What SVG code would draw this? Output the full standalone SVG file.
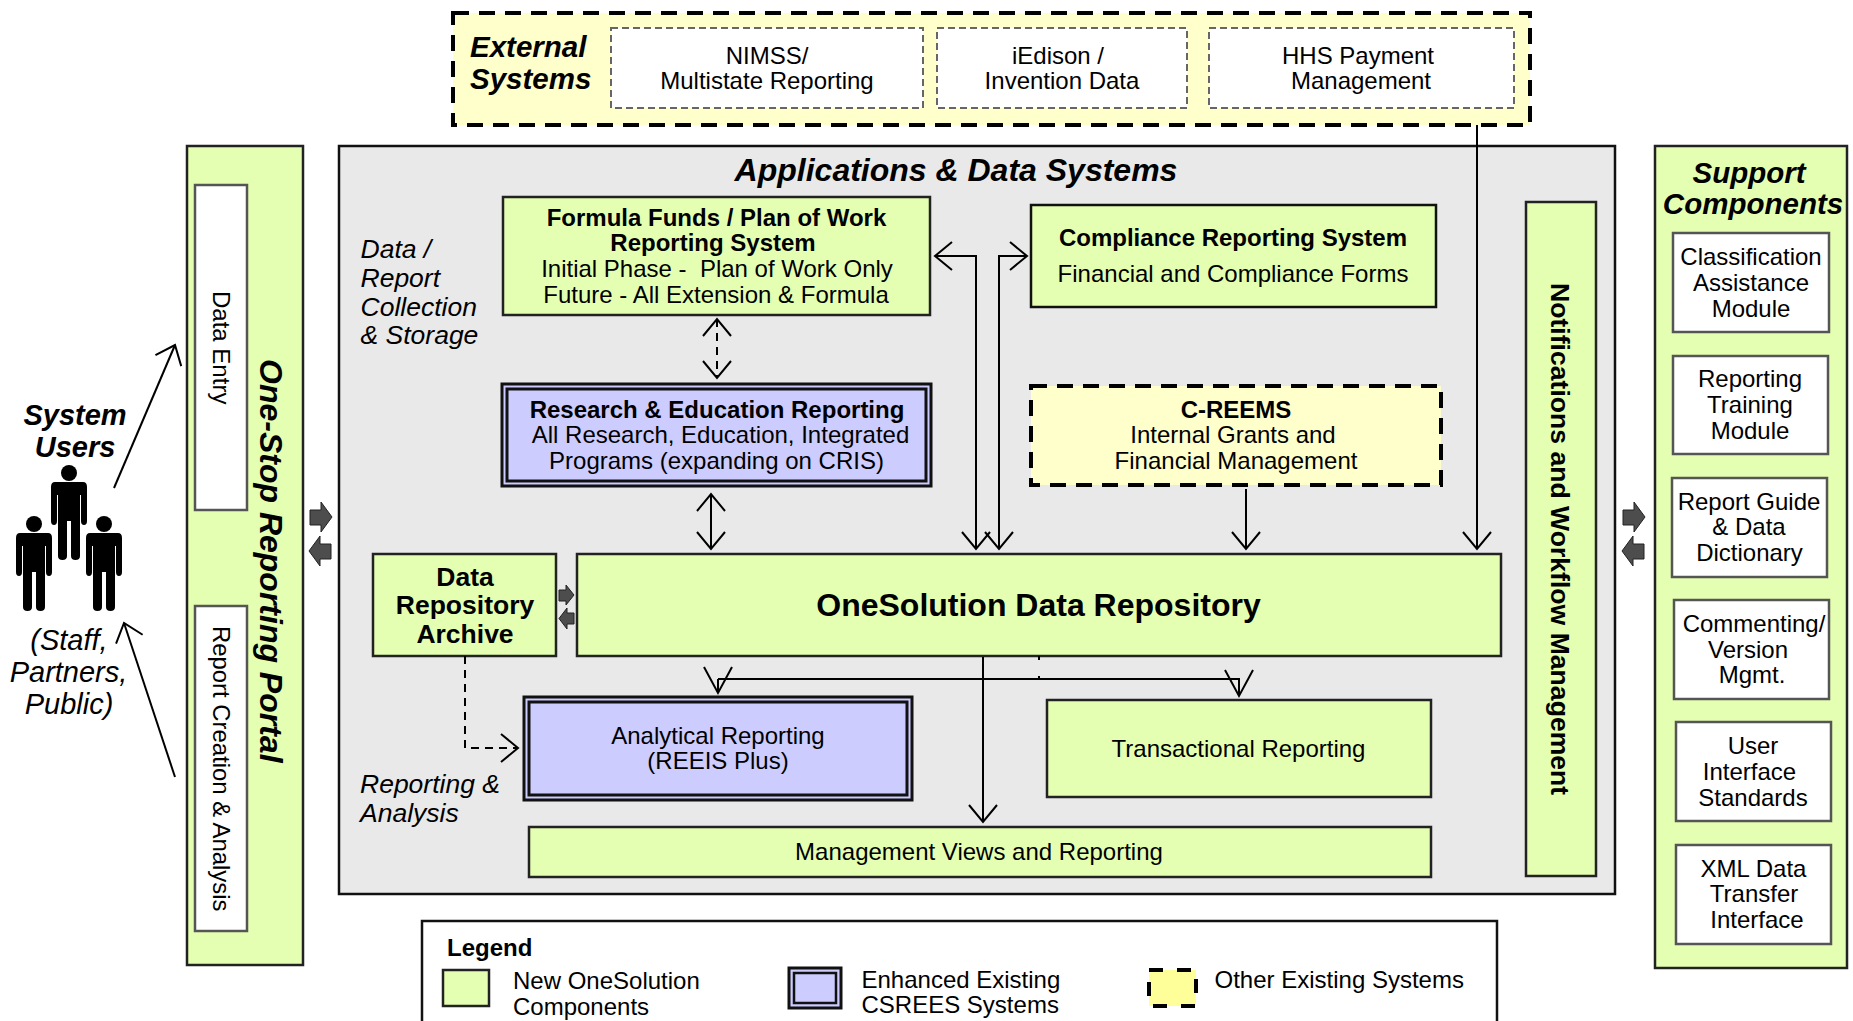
<svg xmlns="http://www.w3.org/2000/svg" xmlns:xlink="http://www.w3.org/1999/xlink" width="1853" height="1021" viewBox="0 0 1853 1021">
<style>
text{font-family:"Liberation Sans",Arial,sans-serif;font-size:24px;fill:#000}
.m{text-anchor:middle}
.b{font-weight:bold}
.i{font-style:italic}
.bi{font-weight:bold;font-style:italic}
.green{fill:#e4ffb2;stroke:#222;stroke-width:2.5}
.blue{fill:#ccccff;stroke:#111;stroke-width:3}
.white{fill:#fff;stroke:#555;stroke-width:2.5}
.yd{fill:#ffffcc;stroke:#000;stroke-width:4;stroke-dasharray:16 10}
.wd{fill:#fff;stroke:#666;stroke-width:2;stroke-dasharray:7 4}
.ln{fill:none;stroke:#000;stroke-width:2}
.dash{stroke-dasharray:8 6}
.blk{fill:#4d4d4d;stroke:#222;stroke-width:1}
</style>
<defs>
<marker id="a" markerUnits="userSpaceOnUse" markerWidth="44" markerHeight="44" refX="22" refY="22" orient="auto"><path d="M5,8L22,22L5,36" fill="none" stroke="#000" stroke-width="2"/></marker>
<marker id="as" markerUnits="userSpaceOnUse" markerWidth="44" markerHeight="44" refX="22" refY="22" orient="auto-start-reverse"><path d="M5,8L22,22L5,36" fill="none" stroke="#000" stroke-width="2"/></marker>
<marker id="al" markerUnits="userSpaceOnUse" markerWidth="44" markerHeight="44" refX="30" refY="22" orient="auto"><path d="M4,8L30,22L4,36" fill="none" stroke="#000" stroke-width="2"/></marker>
<path id="person" d="M-14,9H14Q18,9 18,14V48Q18,52 15,52Q12,52 12,48V22H11V83Q11,87 6.5,87Q2,87 2,83V48H-2V83Q-2,87 -6.5,87Q-11,87 -11,83V22H-12V48Q-12,52 -15,52Q-18,52 -18,48V14Q-18,9 -14,9Z"/>
<path id="bl" d="M0,8H11V0L22,15L11,30V23H0Z"/>
<path id="br" d="M22,8H11V0L0,15L11,30V23H22Z"/>
</defs>
<rect width="1853" height="1021" fill="#fff"/>

<g id="panel-apps">
<rect x="339" y="146" width="1276" height="748" fill="#e9e9e9" stroke="#111" stroke-width="2.5"/>
<text class="bi m" x="956" y="181" style="font-size:32px">Applications &amp; Data Systems</text>
<text class="i" x="360.500" y="258" style="font-size:26.5px">Data /</text>
<text class="i" x="360.500" y="287" style="font-size:26.5px">Report</text>
<text class="i" x="360.500" y="316" style="font-size:26.5px">Collection</text>
<text class="i" x="360.500" y="344" style="font-size:26.5px">&amp; Storage</text>
<text class="i" x="360" y="793" style="font-size:26.5px">Reporting &amp;</text>
<text class="i" x="360" y="822" style="font-size:26.5px">Analysis</text>
</g>

<g id="external-systems">
<rect x="453" y="13" width="1077" height="112" class="yd"/>
<text class="bi" x="470" y="57" style="font-size:29.5px">External</text>
<text class="bi" x="470" y="89" style="font-size:29.5px">Systems</text>
<g id="nimss"><rect x="611" y="28" width="312" height="80" class="wd"/>
<text class="m" x="767" y="64">NIMSS/</text><text class="m" x="767" y="89">Multistate Reporting</text></g>
<g id="iedison"><rect x="937" y="28" width="250" height="80" class="wd"/>
<text class="m" x="1058" y="64">iEdison /</text><text class="m" x="1062" y="89">Invention Data</text></g>
<g id="hhs"><rect x="1209" y="28" width="305" height="80" class="wd"/>
<text class="m" x="1358" y="64">HHS Payment</text><text class="m" x="1361" y="89">Management</text></g>
</g>

<g id="users">
<use xlink:href="#person" href="#person" x="69" y="473"/><circle cx="69" cy="473" r="8"/>
<use xlink:href="#person" href="#person" x="34" y="524"/><circle cx="34" cy="524" r="8"/>
<use xlink:href="#person" href="#person" x="104" y="524"/><circle cx="104" cy="524" r="8"/>
<text class="bi m" x="75" y="425" style="font-size:29px">System</text>
<text class="bi m" x="75" y="457" style="font-size:29px">Users</text>
<text class="i m" x="69" y="650" style="font-size:29px">(Staff,</text>
<text class="i m" x="68.500" y="682" style="font-size:29px">Partners,</text>
<text class="i m" x="69" y="714" style="font-size:29px">Public)</text>
</g>

<g id="portal">
<rect x="187" y="146" width="116" height="819" class="green"/>
<text class="bi" transform="translate(260 359) rotate(90)" style="font-size:32px">One-Stop Reporting Portal</text>
<g id="data-entry"><rect x="195" y="185" width="52" height="325" class="white"/>
<text transform="translate(213 291) rotate(90)">Data Entry</text></g>
<g id="report-creation"><rect x="195" y="606" width="52" height="325" class="white"/>
<text transform="translate(212.500 626) rotate(90)" style="font-size:23.9px">Report Creation &amp; Analysis</text></g>
</g>

<g id="formula"><rect x="503" y="197" width="427" height="118" class="green"/>
<text class="b m" x="716.500" y="226">Formula Funds / Plan of Work</text>
<text class="b m" x="713" y="251">Reporting System</text>
<text class="m" x="717" y="277" xml:space="preserve" style="white-space:pre">Initial Phase -  Plan of Work Only</text>
<text class="m" x="716" y="303">Future - All Extension &amp; Formula</text></g>

<g id="research"><rect x="502" y="384" width="429" height="102" fill="#ccccff" stroke="#111" stroke-width="3"/>
<rect x="507" y="389" width="419" height="92" fill="#ccccff" stroke="#111" stroke-width="3"/>
<text class="b m" x="717" y="418">Research &amp; Education Reporting</text>
<text class="m" x="720.500" y="443">All Research, Education, Integrated</text>
<text class="m" x="716.500" y="469">Programs (expanding on CRIS)</text></g>

<g id="compliance"><rect x="1031" y="205" width="405" height="102" fill="#e4ffb2" stroke="#111" stroke-width="2.5"/>
<text class="b m" x="1233" y="246">Compliance Reporting System</text>
<text class="m" x="1233" y="282">Financial and Compliance Forms</text></g>

<g id="creems"><rect x="1031" y="386" width="410" height="99" class="yd"/>
<text class="b m" x="1236" y="418">C-REEMS</text>
<text class="m" x="1233" y="443">Internal Grants and</text>
<text class="m" x="1236" y="469">Financial Management</text></g>

<g id="archive"><rect x="373" y="554" width="183" height="102" class="green"/>
<text class="b m" x="465" y="586" style="font-size:26.5px">Data</text>
<text class="b m" x="465" y="614" style="font-size:26.5px">Repository</text>
<text class="b m" x="465" y="643" style="font-size:26.5px">Archive</text></g>

<g id="repository"><rect x="577" y="554" width="924" height="102" class="green"/>
<text class="b m" x="1038.500" y="616" style="font-size:32px">OneSolution Data Repository</text></g>

<g id="analytical"><rect x="524" y="697" width="388" height="103" fill="#ccccff" stroke="#111" stroke-width="3"/>
<rect x="529" y="702" width="378" height="93" fill="#ccccff" stroke="#111" stroke-width="3"/>
<text class="m" x="718" y="744">Analytical Reporting</text>
<text class="m" x="718" y="769">(REEIS Plus)</text></g>

<g id="transactional"><rect x="1047" y="700" width="384" height="97" class="green"/>
<text class="m" x="1238.500" y="757">Transactional Reporting</text></g>

<g id="mgmt-views"><rect x="529" y="827" width="902" height="50" class="green"/>
<text class="m" x="979" y="860">Management Views and Reporting</text></g>

<g id="notifications"><rect x="1526" y="202" width="70" height="674" class="green"/>
<text class="b" transform="translate(1551 283) rotate(90)" style="font-size:26.6px">Notifications and Workflow Management</text></g>

<g id="support">
<rect x="1655" y="146" width="192" height="822" class="green"/>
<text class="bi m" x="1749" y="183" style="font-size:29.5px">Support</text>
<text class="bi m" x="1753" y="214" style="font-size:29.5px">Components</text>
<g id="s1"><rect x="1673" y="233" width="156" height="99" class="white"/>
<text class="m" x="1751" y="265">Classification</text><text class="m" x="1751" y="291">Assistance</text><text class="m" x="1751" y="317">Module</text></g>
<g id="s2"><rect x="1673" y="356" width="155" height="98" class="white"/>
<text class="m" x="1750" y="387">Reporting</text><text class="m" x="1750" y="413">Training</text><text class="m" x="1750" y="439">Module</text></g>
<g id="s3"><rect x="1672" y="478" width="155" height="99" class="white"/>
<text class="m" x="1749" y="510">Report Guide</text><text class="m" x="1749" y="535">&amp; Data</text><text class="m" x="1749.500" y="561">Dictionary</text></g>
<g id="s4"><rect x="1674" y="600" width="155" height="99" class="white"/>
<text class="m" x="1754" y="632">Commenting/</text><text class="m" x="1748" y="658">Version</text><text class="m" x="1752" y="683">Mgmt.</text></g>
<g id="s5"><rect x="1676" y="722" width="155" height="99" class="white"/>
<text class="m" x="1753" y="754">User</text><text class="m" x="1749.500" y="780">Interface</text><text class="m" x="1753" y="806">Standards</text></g>
<g id="s6"><rect x="1676" y="845" width="155" height="99" class="white"/>
<text class="m" x="1753.500" y="877">XML Data</text><text class="m" x="1754" y="902">Transfer</text><text class="m" x="1757" y="928">Interface</text></g>
</g>

<g id="legend">
<rect x="422" y="921" width="1075" height="120" fill="#fff" stroke="#111" stroke-width="2.5"/>
<text class="b" x="447" y="956">Legend</text>
<rect x="443" y="970" width="46" height="36" class="green"/>
<text x="513" y="989">New OneSolution</text><text x="513" y="1015">Components</text>
<rect x="789" y="968" width="52" height="40" fill="#ccccff" stroke="#111" stroke-width="3"/>
<rect x="794" y="973" width="42" height="30" fill="#ccccff" stroke="#111" stroke-width="2.5"/>
<text x="861.500" y="988">Enhanced Existing</text><text x="861.500" y="1013">CSREES Systems</text>
<rect x="1149" y="970" width="47" height="36" fill="#ffff99" stroke="#000" stroke-width="4" stroke-dasharray="14 14"/>
<text x="1214.500" y="988">Other Existing Systems</text>
</g>

<g id="connectors">
<path class="ln" d="M114,488L175,345" marker-end="url(#a)"/>
<path class="ln" d="M175,777L124,623" marker-end="url(#a)"/>
<path class="ln" d="M1477,125V549" marker-end="url(#a)"/>
<path class="ln" d="M1246,489V549" marker-end="url(#a)"/>
<path class="ln" d="M935,256H976V549" marker-start="url(#as)" marker-end="url(#as)"/>
<path class="ln" d="M1027,256H999V549" marker-start="url(#as)" marker-end="url(#as)"/>
<path class="ln dash" d="M717,319V378" marker-start="url(#as)" marker-end="url(#as)"/>
<path class="ln" d="M711,494V549" marker-start="url(#as)" marker-end="url(#as)"/>
<path class="ln dash" d="M465,656V748H518" marker-end="url(#a)"/>
<path class="ln" d="M718,679H1239V696" marker-end="url(#al)"/>
<path class="ln" d="M718,679V693" marker-end="url(#al)"/>
<path class="ln" d="M983,657V822" marker-end="url(#a)"/>
<path class="ln" d="M1039,656V660M1039,676V679" stroke-width="1.5"/>
<use xlink:href="#bl" href="#bl" class="blk" x="310" y="502"/>
<use xlink:href="#br" href="#br" class="blk" x="309" y="536"/>
<use xlink:href="#bl" href="#bl" class="blk" x="1623" y="502"/>
<use xlink:href="#br" href="#br" class="blk" x="1622" y="536"/>
<path class="blk" d="M559,590H566V585L574,595L566,605V601H559Z"/>
<path class="blk" d="M574,613H567V608L559,618.500L567,629V624H574Z"/>
</g>
</svg>
